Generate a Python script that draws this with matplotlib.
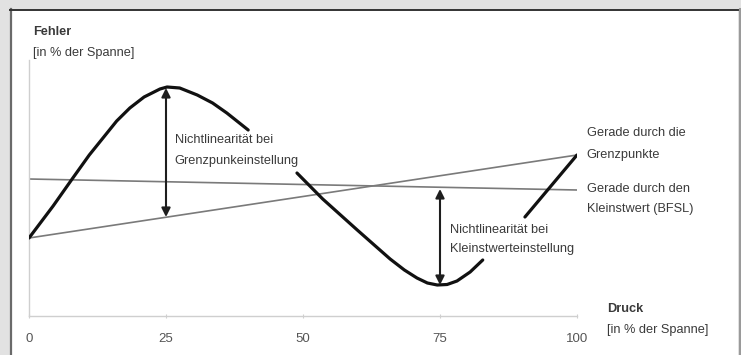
import numpy as np
import matplotlib.pyplot as plt
from matplotlib.lines import Line2D
from matplotlib.patches import Rectangle

# Kennlinie (Fehler über Druck), Lücken an den Beschriftungen
druck = [0, 4.4, 8.0, 11.0, 13.5, 16.0, 18.4, 21.0, 23.9, 25.2, 27.5, 30.7, 33.5, 36.1, 40.0, np.nan,
         48.9, 53.6, 59.9, 63.0, 65.9, 68.5, 70.8, 72.7, 74.5, 76.3, 78.1, 80.5, 82.8, np.nan,
         90.5, 100]
fehler = [7.8, 11.0, 13.8, 16.1, 17.8, 19.5, 20.8, 21.9, 22.7, 22.9, 22.8, 22.1, 21.3, 20.3, 18.6, np.nan,
          14.3, 11.7, 8.6, 7.1, 5.7, 4.6, 3.8, 3.3, 3.1, 3.15, 3.5, 4.4, 5.6, np.nan,
          9.9, 16.1]

# Geraden: durch die Grenzpunkte und durch den Kleinstwert (BFSL)
gerade_x = [0, 100]
grenzpunkt_y = [7.8, 16.1]
bfsl_y = [13.7, 12.6]

# Nichtlinearitäts-Pfeile
pfeil_x = [25, 75]
pfeil_oben = [22.8, 12.7]
pfeil_unten = [9.9, 3.1]

x_ticks = [0, 25, 50, 75, 100]

TXT = '#3a3a3a'
FONT = 'Liberation Sans'
FS = 9.2

fig = plt.figure(figsize=(7.41, 3.55), dpi=100, facecolor='#e2e2e2')

# weißes Feld mit Rahmen
W, H = 741, 355
fig.patches.append(Rectangle((10 / W, 0), 728 / W, 1 - 9 / H, transform=fig.transFigure,
                             facecolor='white', edgecolor='none', zorder=-5))
fig.add_artist(Line2D([10.5 / W, 10.5 / W], [0, 1 - 9 / H], color='#6a6a6a', lw=1.6))
fig.add_artist(Line2D([10 / W, 738 / W], [1 - 9.5 / H, 1 - 9.5 / H], color='#333333', lw=1.4))
fig.add_artist(Line2D([739.5 / W, 739.5 / W], [0, 1 - 9 / H], color='#9a9a9a', lw=2.2))

ax = fig.add_axes([29 / W, 39 / H, 548 / W, 256 / H])
ax.set_facecolor('none')
ax.set_xlim(0, 100)
ax.set_ylim(0, 25.6)

ax.plot(gerade_x, grenzpunkt_y, color='#7a7a7a', lw=1.2, zorder=2)
ax.plot(gerade_x, bfsl_y, color='#7a7a7a', lw=1.2, zorder=2)
ax.plot(druck, fehler, color='#111111', lw=2.3, solid_capstyle='round',
        solid_joinstyle='round', zorder=3)

for x, y0, y1 in zip(pfeil_x, pfeil_unten, pfeil_oben):
    ax.annotate('', xy=(x, y1), xytext=(x, y0),
                arrowprops=dict(arrowstyle='<|-|>', color='#1e1e1e', lw=1.5,
                                mutation_scale=13, shrinkA=0, shrinkB=0), zorder=4)

for side in ['top', 'right']:
    ax.spines[side].set_visible(False)
for side in ['left', 'bottom']:
    ax.spines[side].set_color('#cfcfcf')
    ax.spines[side].set_linewidth(1.0)

ax.set_yticks([])
ax.set_xticks(x_ticks)
ax.set_xticklabels([str(t) for t in x_ticks], fontsize=9.5, color='#555555', family=FONT)
ax.tick_params(axis='x', direction='inout', length=3, width=0.8, color='#cfcfcf', pad=11)


def label(x, y, lines, bold_first=False, step=2.1):
    for i, s in enumerate(lines):
        ax.text(x, y - i * step, s, ha='left', va='center', fontsize=FS, color=TXT,
                family=FONT, fontweight='bold' if (bold_first and i == 0) else 'normal',
                clip_on=False, zorder=5)


label(0.7, 28.4, ['Fehler', '[in % der Spanne]'], bold_first=True)
label(105.5, 0.7, ['Druck', '[in % der Spanne]'], bold_first=True)
label(26.6, 17.6, ['Nichtlinearität bei', 'Grenzpunkeinstellung'])
label(76.8, 8.6, ['Nichtlinearität bei', 'Kleinstwerteinstellung'], step=1.9)
label(101.8, 18.3, ['Gerade durch die', 'Grenzpunkte'], step=2.2)
label(101.8, 12.7, ['Gerade durch den', 'Kleinstwert (BFSL)'], step=2.0)

fig.savefig('out.png', dpi=100, facecolor=fig.get_facecolor())
